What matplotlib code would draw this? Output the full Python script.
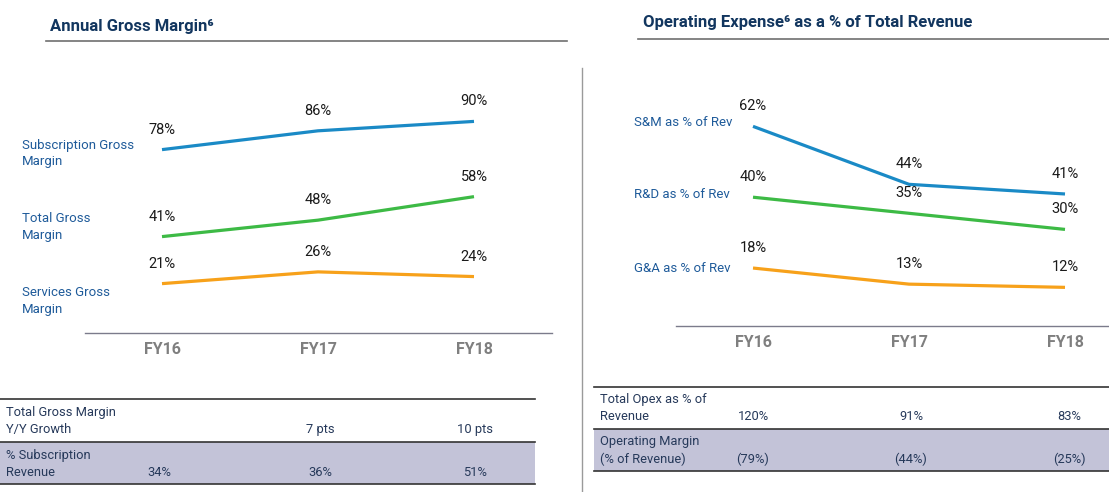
import matplotlib
matplotlib.use('Agg')
import matplotlib.pyplot as plt
from matplotlib.lines import Line2D
from matplotlib.patches import Rectangle

plt.rcParams['font.family'] = ['Roboto', 'DejaVu Sans']

W, H = 1109, 492

# dados
anos = ['FY16', 'FY17', 'FY18']
subscricao = [78, 86, 90]
total_gm = [41, 48, 58]
servicos = [21, 26, 24]
sm_rev = [62, 44, 41]
rd_rev = [40, 35, 30]
ga_rev = [18, 13, 12]

rotulos_esq = ['Subscription Gross\nMargin', 'Total Gross\nMargin', 'Services Gross\nMargin']
rotulos_dir = ['S&M as % of Rev', 'R&D as % of Rev', 'G&A as % of Rev']

tab_esq_l1 = ['Total Gross Margin\nY/Y Growth', '', '7 pts', '10 pts']
tab_esq_l2 = ['% Subscription\nRevenue', '34%', '36%', '51%']
tab_dir_l1 = ['Total Opex as % of\nRevenue', '120%', '91%', '83%']
tab_dir_l2 = ['Operating Margin\n(% of Revenue)', '(79%)', '(44%)', '(25%)']

azul = '#1a8ac6'
verde = '#3dba45'
laranja = '#f7a11a'
navy = '#12365f'
azul_txt = '#1f5b9a'
txt_tab = '#26395a'
cinza = '#7f7f7f'
lilas = '#c3c3d8'


def fx(x):
    return x / W


def fy(y):
    return 1 - y / H


fig = plt.figure(figsize=(W / 100, H / 100), dpi=100)


def eixo(x0, x1, y0, y1, escala, xfy16):
    ax = fig.add_axes([fx(x0), fy(y0), fx(x1) - fx(x0), (y0 - y1) / H])
    ax.set_ylim(0, (y0 - y1) / escala)
    ax.set_xlim(-(xfy16 - x0) / 156.0, (x1 - xfy16) / 156.0)
    for s in ['top', 'left', 'right']:
        ax.spines[s].set_visible(False)
    ax.spines['bottom'].set_color('#7b7b8b')
    ax.spines['bottom'].set_linewidth(1.0)
    ax.set_yticks([])
    ax.set_xticks(range(3))
    ax.set_xticklabels(anos, fontsize=11.5, fontweight='bold', color=cinza)
    ax.tick_params(axis='x', length=0, pad=6.5)
    ax.patch.set_alpha(0)
    return ax


ax1 = eixo(85, 552, 333, 60, 2.351, 162)
ax2 = eixo(676, 1109, 326, 60, 3.22, 753)

x = range(3)
for ax, series in [(ax1, [subscricao, total_gm, servicos]), (ax2, [sm_rev, rd_rev, ga_rev])]:
    for s, c in zip(series, [azul, verde, laranja]):
        ax.plot(x, s, color=c, linewidth=2.3, solid_capstyle='butt')
        for i, v in enumerate(s):
            ax.annotate(f'{v}%', (i, v), xytext=(0, 14.4), textcoords='offset points',
                        ha='center', va='center', fontsize=10.5, color='#1a1a1a')

# rótulos das séries
for t, yy in zip(rotulos_esq, [154, 227, 301]):
    fig.text(fx(22), fy(yy), t, fontsize=9.5, color=azul_txt, ha='left', va='center', linespacing=1.3)
for t, yy in zip(rotulos_dir, [122, 195, 268]):
    fig.text(fx(634), fy(yy), t, fontsize=9.5, color=azul_txt, ha='left', va='center')

# títulos
fig.text(fx(50), fy(27), 'Annual Gross Margin\u2076', fontsize=12, fontweight='bold', color=navy,
         ha='left', va='center')
fig.text(fx(643), fy(22), 'Operating Expense\u2076 as a % of Total Revenue', fontsize=12,
         fontweight='bold', color=navy, ha='left', va='center')
fig.add_artist(Line2D([fx(46), fx(567)], [fy(41), fy(41)], color='#6f6f6f', linewidth=1.2))
fig.add_artist(Line2D([fx(638), fx(1109)], [fy(39), fy(39)], color='#6f6f6f', linewidth=1.2))

# divisória
fig.add_artist(Line2D([fx(582), fx(582)], [fy(68), fy(492)], color='#9a9a9a', linewidth=1.0))


def tabela(x0, x1, ytop, ymid, ybot, l1, l2, cols):
    fig.add_artist(Rectangle((fx(x0), fy(ybot)), fx(x1) - fx(x0), (ybot - ymid) / H,
                             facecolor=lilas, edgecolor='none'))
    for yy in [ytop, ymid, ybot]:
        fig.add_artist(Line2D([fx(x0), fx(x1)], [fy(yy), fy(yy)], color='#333333', linewidth=1.2))
    for linha, (ya, yb) in zip([l1, l2], [(ytop, ymid), (ymid, ybot)]):
        yc = (ya + yb) / 2 + 0.5
        fig.text(fx(x0 + 6), fy(yc), linha[0], fontsize=9.3, color=txt_tab, ha='left', va='center',
                 linespacing=1.4)
        yv = yb - 12
        for v, cx in zip(linha[1:], cols):
            fig.text(fx(cx), fy(yv), v, fontsize=9.3, color=txt_tab, ha='center', va='center')


tabela(0, 535, 399, 442, 484, tab_esq_l1, tab_esq_l2, [159, 320, 475])
tabela(594, 1109, 387, 429, 471, tab_dir_l1, tab_dir_l2, [753, 911, 1069])

fig.savefig('out.png', dpi=100)
